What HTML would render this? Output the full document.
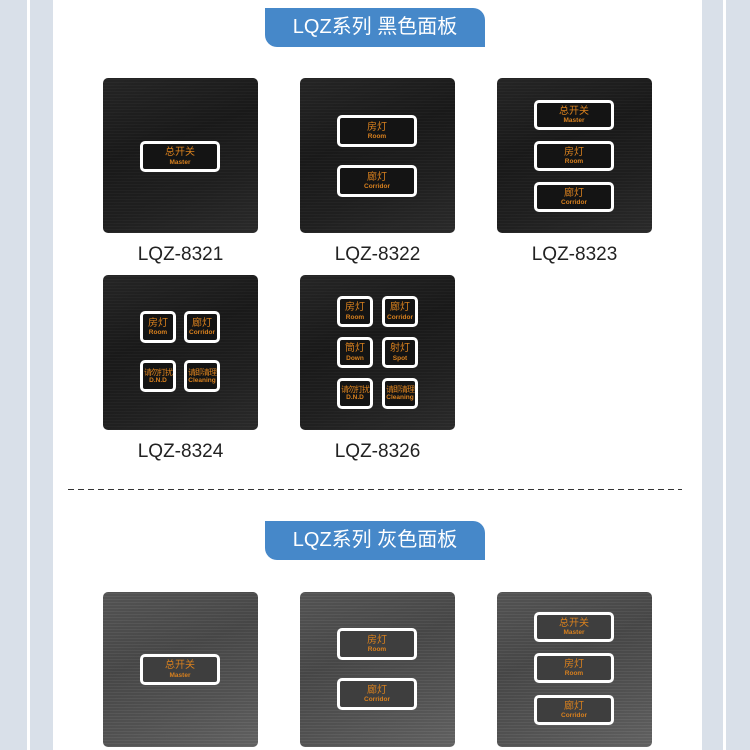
<!DOCTYPE html>
<html><head><meta charset="utf-8"><style>
*{margin:0;padding:0;box-sizing:border-box}
body{width:750px;height:750px;background:#fff;position:relative;overflow:hidden;font-family:"Liberation Sans","Noto Sans CJK SC",sans-serif}
.s{position:absolute;top:0;height:750px;background:#d9e0e9}
.ban{position:absolute;left:265px;width:220px;height:39px;background:#4688c9;color:#fff;font-size:20px;line-height:39px;text-align:center;border-radius:0 12px 0 12px}
.p{position:absolute;width:155px;height:155px;border-radius:5px;
background:repeating-linear-gradient(0deg,rgba(255,255,255,0.025) 0 1px,rgba(0,0,0,0.04) 1px 3px),linear-gradient(160deg,#262626 0%,#1a1a1a 40%,#202020 70%,#2c2c2c 100%)}
.g{background:repeating-linear-gradient(0deg,rgba(255,255,255,0.035) 0 1px,rgba(0,0,0,0.05) 1px 3px),linear-gradient(160deg,#575757 0%,#4a4a4a 40%,#555 70%,#666 100%)}
.b{position:absolute;border:3px solid #fff;border-radius:5px;background:#141414;color:#d8801e;text-align:center;display:flex;flex-direction:column;justify-content:center;line-height:1.15}
.g .b{background:#3e3e3e}
.b .c{font-size:10px}
.b .e{font-size:6.5px;font-weight:bold}
.l{position:absolute;width:155px;text-align:center;font-size:19px;color:#222}
.dash{position:absolute;left:68px;top:489px;width:614px;height:1px;background:repeating-linear-gradient(90deg,#333 0 6px,transparent 6px 10px)}
</style></head><body>
<div class="s" style="left:0;width:27px"></div>
<div class="s" style="left:30px;width:23px"></div>
<div class="s" style="left:702px;width:21px"></div>
<div class="s" style="left:726px;width:24px"></div>

<div class="ban" style="top:8px">LQZ系列 黑色面板</div>

<div class="p" style="left:103px;top:78px">
 <div class="b" style="left:37px;top:63px;width:80px;height:31px"><span class="c">总开关</span><span class="e">Master</span></div>
</div>
<div class="p" style="left:300px;top:78px">
 <div class="b" style="left:37px;top:37px;width:80px;height:32px"><span class="c">房灯</span><span class="e">Room</span></div>
 <div class="b" style="left:37px;top:87px;width:80px;height:32px"><span class="c">廊灯</span><span class="e">Corridor</span></div>
</div>
<div class="p" style="left:497px;top:78px">
 <div class="b" style="left:37px;top:22px;width:80px;height:30px"><span class="c">总开关</span><span class="e">Master</span></div>
 <div class="b" style="left:37px;top:63px;width:80px;height:30px"><span class="c">房灯</span><span class="e">Room</span></div>
 <div class="b" style="left:37px;top:104px;width:80px;height:30px"><span class="c">廊灯</span><span class="e">Corridor</span></div>
</div>
<div class="l" style="left:103px;top:244px">LQZ-8321</div>
<div class="l" style="left:300px;top:244px">LQZ-8322</div>
<div class="l" style="left:497px;top:244px">LQZ-8323</div>

<div class="p" style="left:103px;top:275px">
 <div class="b" style="left:37px;top:36px;width:36px;height:32px"><span class="c">房灯</span><span class="e">Room</span></div>
 <div class="b" style="left:81px;top:36px;width:36px;height:32px"><span class="c">廊灯</span><span class="e">Corridor</span></div>
 <div class="b" style="left:37px;top:85px;width:36px;height:32px"><span class="c" style="font-size:8px;letter-spacing:-1px">请勿打扰</span><span class="e">D.N.D</span></div>
 <div class="b" style="left:81px;top:85px;width:36px;height:32px"><span class="c" style="font-size:8px;letter-spacing:-1px">请即清理</span><span class="e">Cleaning</span></div>
</div>
<div class="p" style="left:300px;top:275px">
 <div class="b" style="left:37px;top:21px;width:36px;height:31px"><span class="c">房灯</span><span class="e">Room</span></div>
 <div class="b" style="left:82px;top:21px;width:36px;height:31px"><span class="c">廊灯</span><span class="e">Corridor</span></div>
 <div class="b" style="left:37px;top:62px;width:36px;height:31px"><span class="c">筒灯</span><span class="e">Down</span></div>
 <div class="b" style="left:82px;top:62px;width:36px;height:31px"><span class="c">射灯</span><span class="e">Spot</span></div>
 <div class="b" style="left:37px;top:103px;width:36px;height:31px"><span class="c" style="font-size:8px;letter-spacing:-1px">请勿打扰</span><span class="e">D.N.D</span></div>
 <div class="b" style="left:82px;top:103px;width:36px;height:31px"><span class="c" style="font-size:8px;letter-spacing:-1px">请即清理</span><span class="e">Cleaning</span></div>
</div>
<div class="l" style="left:103px;top:441px">LQZ-8324</div>
<div class="l" style="left:300px;top:441px">LQZ-8326</div>

<div class="dash"></div>

<div class="ban" style="top:521px">LQZ系列 灰色面板</div>

<div class="p g" style="left:103px;top:592px">
 <div class="b" style="left:37px;top:62px;width:80px;height:31px"><span class="c">总开关</span><span class="e">Master</span></div>
</div>
<div class="p g" style="left:300px;top:592px">
 <div class="b" style="left:37px;top:36px;width:80px;height:32px"><span class="c">房灯</span><span class="e">Room</span></div>
 <div class="b" style="left:37px;top:86px;width:80px;height:32px"><span class="c">廊灯</span><span class="e">Corridor</span></div>
</div>
<div class="p g" style="left:497px;top:592px">
 <div class="b" style="left:37px;top:20px;width:80px;height:30px"><span class="c">总开关</span><span class="e">Master</span></div>
 <div class="b" style="left:37px;top:61px;width:80px;height:30px"><span class="c">房灯</span><span class="e">Room</span></div>
 <div class="b" style="left:37px;top:103px;width:80px;height:30px"><span class="c">廊灯</span><span class="e">Corridor</span></div>
</div>
</body></html>
